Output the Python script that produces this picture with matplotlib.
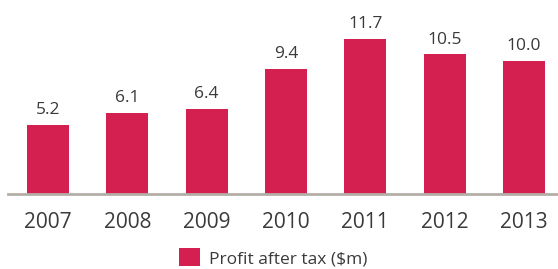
import matplotlib
matplotlib.use("Agg")
import matplotlib.pyplot as plt
from matplotlib.patches import Patch

years = ["2007", "2008", "2009", "2010", "2011", "2012", "2013"]
profit = [5.2, 6.1, 6.4, 9.4, 11.7, 10.5, 10.0]
series_name = "Profit after tax ($m)"

bar_color = "#D42050"
text_color = "#3a3a3a"

plt.rcParams['font.family'] = ['Open Sans', 'DejaVu Sans']

fig = plt.figure(figsize=(5.58, 2.69), dpi=100)
ax = fig.add_axes([8/558, 1 - 194/269, 550/558, 194/269])

x = list(range(len(years)))
bars = ax.bar(x, profit, width=0.53, color=bar_color, zorder=2)
for xi, v in zip(x, profit):
    ax.text(xi, v + 0.5, f"{v:.1f}", ha="center", va="bottom",
            fontsize=12.5, color=text_color)

ax.set_xlim(-0.505, 6.43)
ax.set_ylim(0, 14.6)
for s in ["top", "right", "left"]:
    ax.spines[s].set_visible(False)
ax.spines["bottom"].set_color("#b3afa7")
ax.spines["bottom"].set_linewidth(2)
ax.set_yticks([])
ax.set_xticks(x)
ax.set_xticklabels(years, fontsize=15, color=text_color)
ax.tick_params(axis="x", length=0, pad=13)

handle = Patch(facecolor=bar_color, edgecolor="none")
fig.legend([handle], [series_name], loc="center", bbox_to_anchor=(0.49, 0.042),
           frameon=False, fontsize=12.5, handlelength=1.2, handleheight=1.2,
           handletextpad=0.5, borderpad=0, labelcolor=text_color)

fig.savefig("out.png", dpi=100)
